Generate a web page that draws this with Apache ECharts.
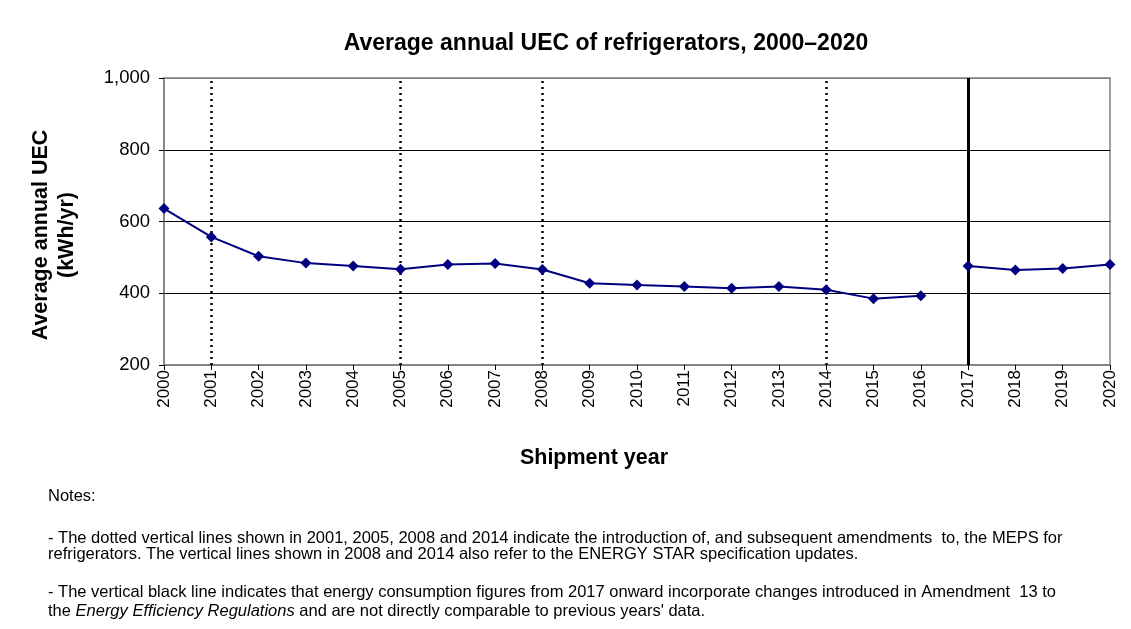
<!DOCTYPE html>
<html>
<head>
<meta charset="utf-8">
<script src="https://cdn.jsdelivr.net/npm/echarts@6/dist/echarts.min.js"></script>
<style>html,body{margin:0;padding:0;background:#fff}#c{width:1131px;height:629px}</style>
</head>
<body>
<div id="c"></div>
<script>
const years = ['2000','2001','2002','2003','2004','2005','2006','2007','2008','2009','2010','2011','2012','2013','2014','2015','2016','2017','2018','2019','2020'];
const uecBefore = [636,557,503,484,476,467,480,483,466,428,423,419,414,419,410,385,393,'-','-','-','-'];
const uecAfter = ['-','-','-','-','-','-','-','-','-','-','-','-','-','-','-','-','-',476,465,469,480];
const dottedYears = ['2001','2005','2008','2014'];
const breakYear = '2017';
const yTicks = {min:200, max:1000, interval:200};

const FONT = '"Liberation Sans", Arial, sans-serif';
const chart = echarts.init(document.getElementById('c'), null, {renderer:'canvas'});

const markDotted = dottedYears.map(y => ({xAxis: y, lineStyle:{type:[2,4], width:2.5, color:'#000'}}));
const markSolid = [{xAxis: breakYear, lineStyle:{type:'solid', width:3, color:'#000'}}];
const NF = 16.5;

chart.setOption({
  animation:false,
  backgroundColor:'#fff',
  textStyle:{fontFamily:FONT},
  title:{
    text:'Average annual UEC of refrigerators, 2000–2020',
    left:601, top:27, textAlign:'center',
    textStyle:{fontFamily:FONT, fontSize:23, fontWeight:'bold', color:'#000'}
  },
  grid:{left:164, right:21, top:78, bottom:264, show:true, borderColor:'#808080', borderWidth:1.5, backgroundColor:'transparent'},
  xAxis:{
    type:'category', data:years, boundaryGap:false,
    axisLine:{lineStyle:{color:'#808080', width:1.5}},
    axisTick:{show:true, length:5, alignWithLabel:true, lineStyle:{color:'#000'}},
    axisLabel:{rotate:90, fontSize:17, color:'#000', fontFamily:FONT, margin:5, interval:0},
    splitLine:{show:false},
    name:'Shipment year', nameLocation:'middle', nameGap:82,
    nameTextStyle:{fontFamily:FONT, fontSize:21.5, fontWeight:'bold', color:'#000', padding:[0,86,0,0]}
  },
  yAxis:{
    type:'value', min:yTicks.min, max:yTicks.max, interval:yTicks.interval,
    axisLine:{show:true, lineStyle:{color:'#808080', width:1.5}},
    axisTick:{show:true, length:5, lineStyle:{color:'#000'}},
    axisLabel:{fontSize:18.5, color:'#000', fontFamily:FONT, margin:14,
      formatter: v => v.toLocaleString('en-US')},
    splitLine:{show:true, lineStyle:{color:['#808080','#000','#000','#000','#808080'], width:1}}
  },
  series:[
    {type:'line', data:uecBefore, symbol:'diamond', symbolSize:11, connectNulls:false,
     itemStyle:{color:'#000080'}, lineStyle:{color:'#000080', width:2},
     markLine:{silent:true, symbol:'none', label:{show:false}, data:markDotted.concat(markSolid)}, z:5},
    {type:'line', data:uecAfter, symbol:'diamond', symbolSize:11, connectNulls:false,
     itemStyle:{color:'#000080'}, lineStyle:{color:'#000080', width:2}, z:5}
  ],
  graphic:[
    {type:'text', x:54, y:235, rotation:Math.PI/2, style:{
      text:'Average annual UEC\n(kWh/yr)', align:'center', verticalAlign:'middle',
      font:'bold 21.5px '+FONT, lineHeight:26, fill:'#000'}},
    {type:'text', left:48, top:488, style:{text:'Notes:', font:NF+'px '+FONT, fill:'#000'}},
    {type:'text', left:48, top:530, style:{text:'- The dotted vertical lines shown in 2001, 2005, 2008 and 2014 indicate the introduction of, and subsequent amendments  to, the MEPS for', font:NF+'px '+FONT, fill:'#000'}},
    {type:'text', left:48, top:546, style:{text:'refrigerators. The vertical lines shown in 2008 and 2014 also refer to the ENERGY STAR specification updates.', font:NF+'px '+FONT, fill:'#000'}},
    {type:'text', left:48, top:584, style:{text:'- The vertical black line indicates that energy consumption figures from 2017 onward incorporate changes introduced in Amendment  13 to', font:NF+'px '+FONT, fill:'#000'}},
    {type:'text', left:48, top:603, style:{
      text:'the {i|Energy Efficiency Regulations} and are not directly comparable to previous years\' data.',
      font:NF+'px '+FONT, fill:'#000',
      rich:{i:{fontStyle:'italic', fontSize:NF, fontFamily:FONT, fill:'#000'}}
    }}
  ]
});
</script>
</body>
</html>
